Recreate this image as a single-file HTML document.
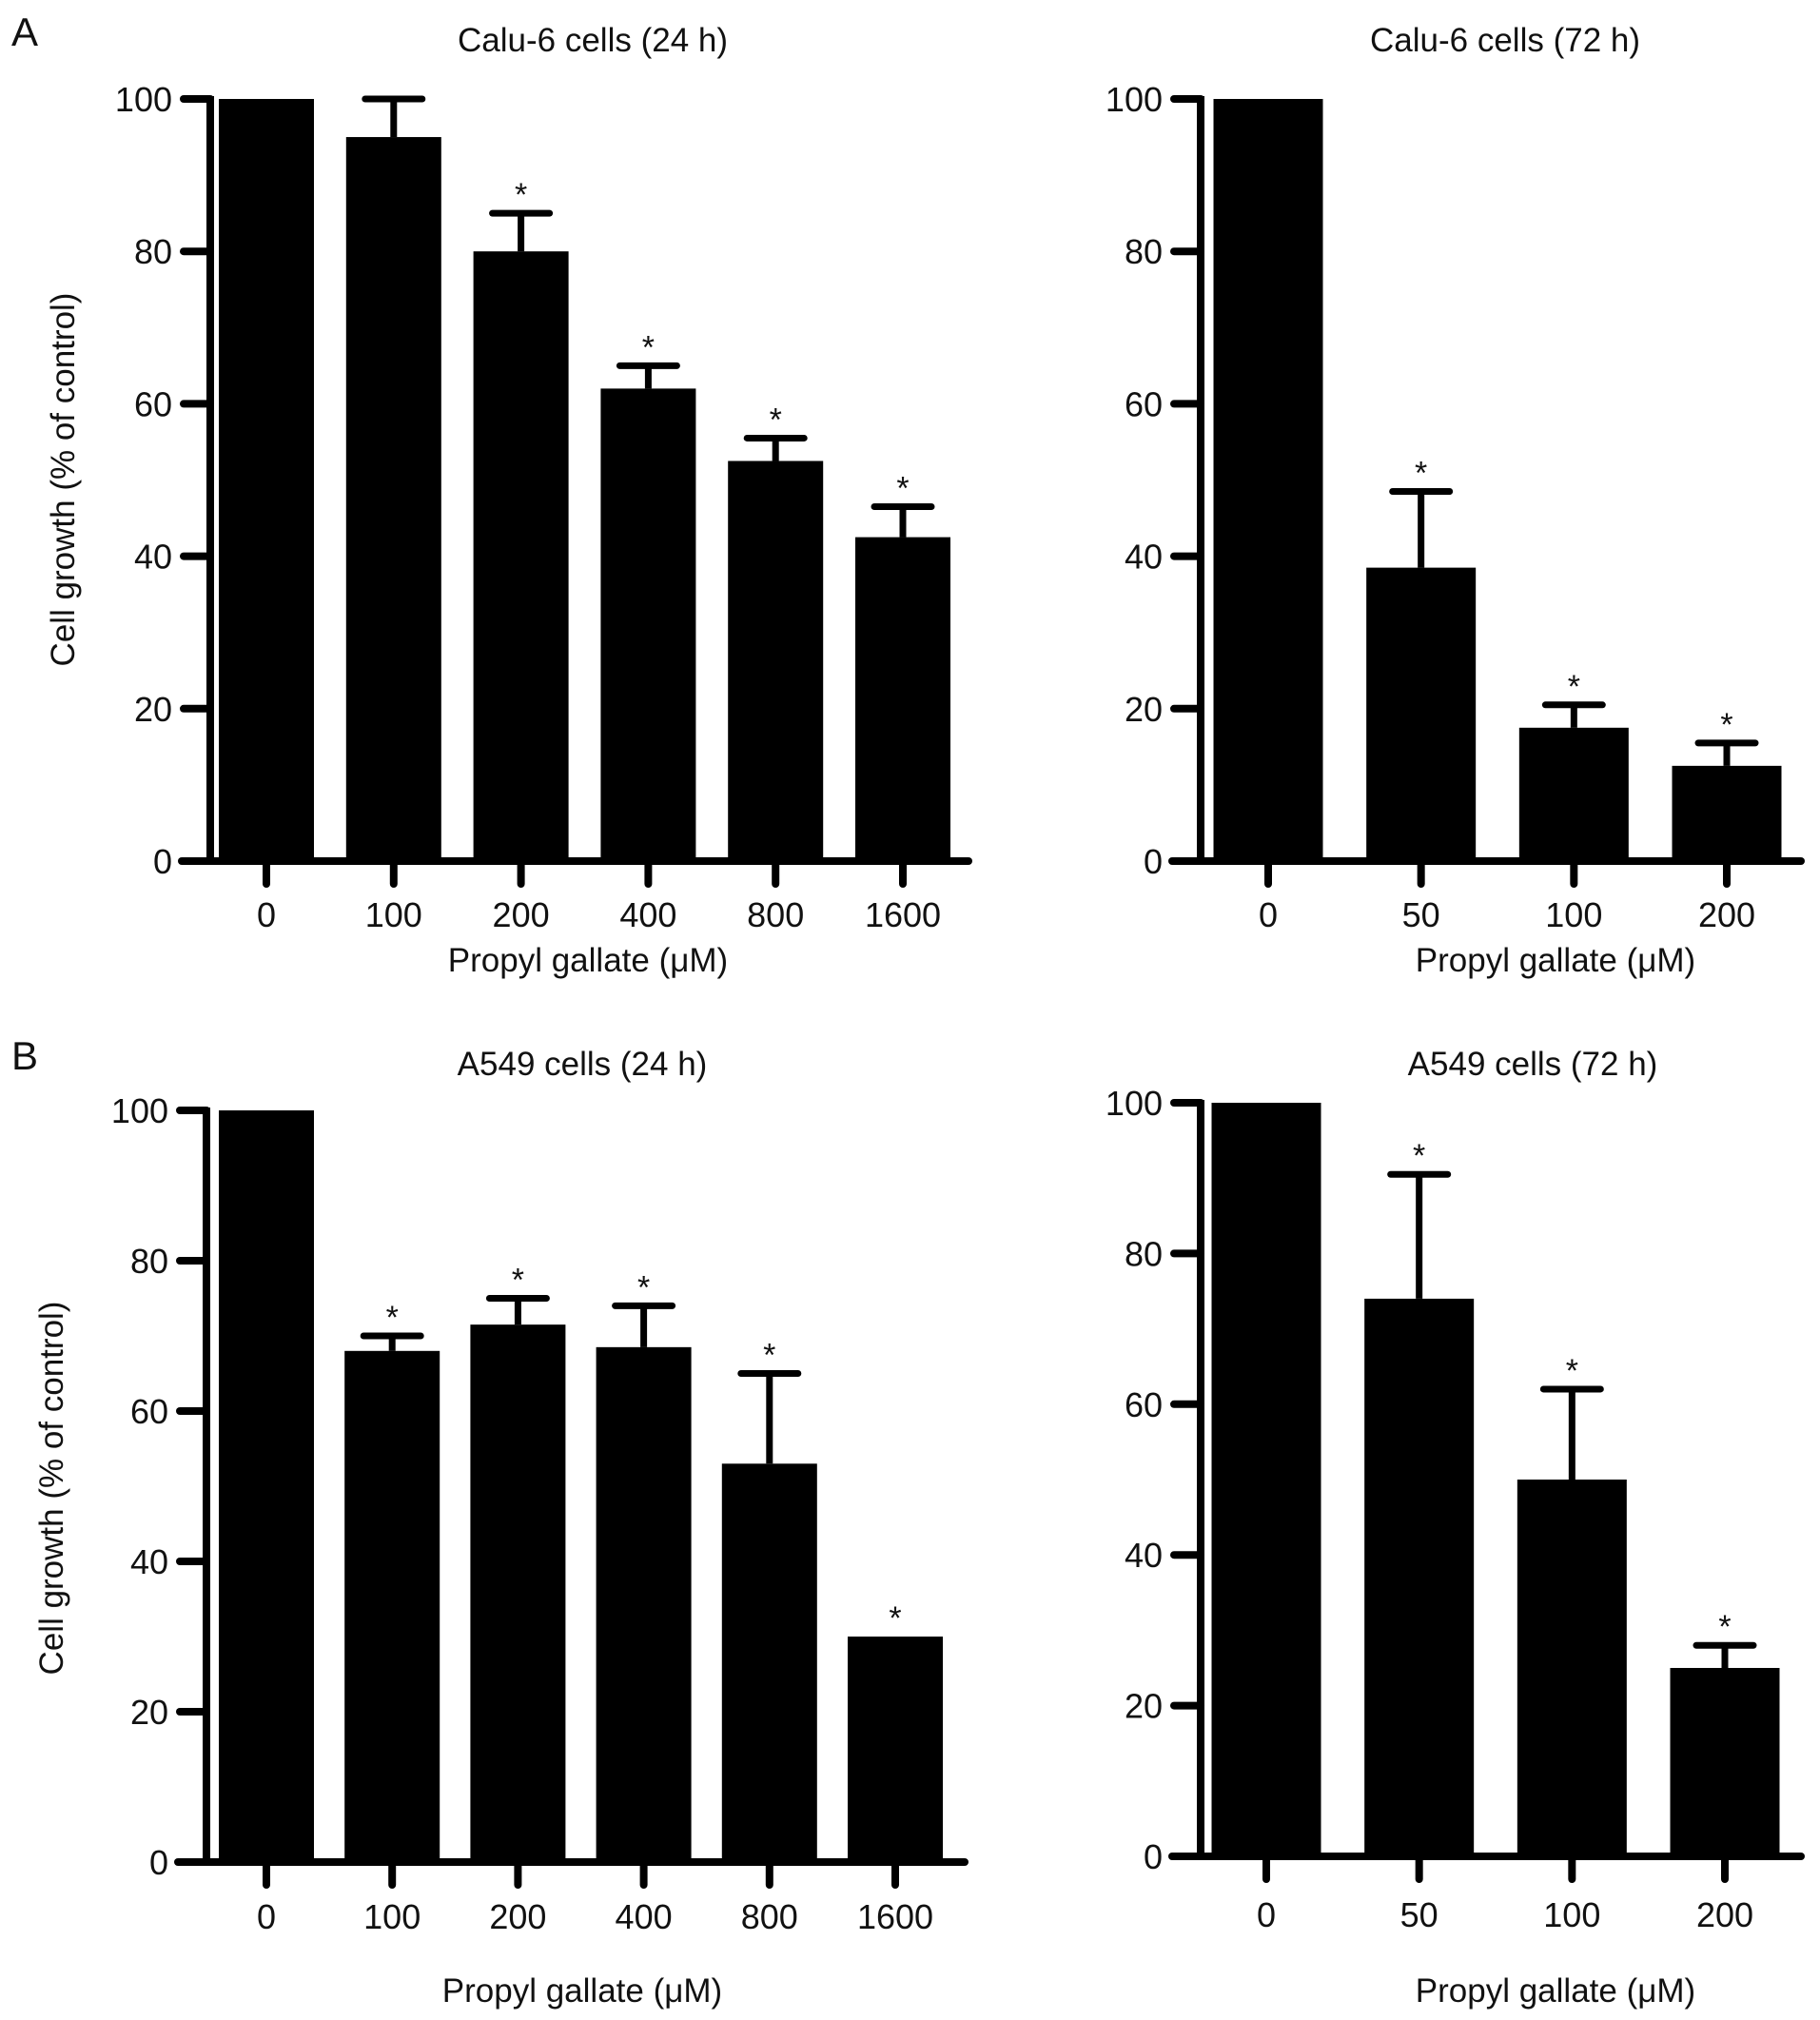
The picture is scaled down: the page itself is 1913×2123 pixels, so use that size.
<!DOCTYPE html>
<html><head><meta charset="utf-8">
<style>
html,body{margin:0;padding:0;background:#fff;}
svg{display:block;}
text{font-family:"Liberation Sans",Arial,sans-serif;fill:#111;}
</style></head>
<body>
<svg id="fig" width="1913" height="2123" viewBox="0 0 1913 2123" xmlns="http://www.w3.org/2000/svg">
<text x="12" y="48" font-size="42">A</text>
<text x="12" y="1124" font-size="42">B</text>
</svg>
<script>
// Panel A left: Calu-6 24 h
const catsA24 = ["0","100","200","400","800","1600"];
const valsA24 = [100, 95, 80, 62, 52.5, 42.5];
const errA24 = [0, 5, 5, 3, 3, 4];
const starA24 = [false, false, true, true, true, true];
// Panel A right: Calu-6 72 h
const catsA72 = ["0","50","100","200"];
const valsA72 = [100, 38.5, 17.5, 12.5];
const errA72 = [0, 10, 3, 3];
const starA72 = [false, true, true, true];
// Panel B left: A549 24 h
const catsB24 = ["0","100","200","400","800","1600"];
const valsB24 = [100, 68, 71.5, 68.5, 53, 30];
const errB24 = [0, 2, 3.5, 5.5, 12, 0];
const starB24 = [false, true, true, true, true, true];
// Panel B right: A549 72 h
const catsB72 = ["0","50","100","200"];
const valsB72 = [100, 74, 50, 25];
const errB72 = [0, 16.5, 12, 3];
const starB72 = [false, true, true, true];
const yTicks = [0, 20, 40, 60, 80, 100];

const svg = document.getElementById('fig');
const NS = 'http://www.w3.org/2000/svg';
function mk(tag, attrs, parent){
  const e = document.createElementNS(NS, tag);
  for (const k in attrs) e.setAttribute(k, attrs[k]);
  (parent||svg).appendChild(e);
  return e;
}

function panel(p){
  const g = mk('g', {});
  
  
  const y = v => p.y0 + (p.y100 - p.y0) * v / 100;
  const step = (p.xLast - p.xFirst) / (p.cats.length - 1);
  const x = i => p.xFirst + step * i;
  const t = mk('text', {x: p.titleX, y: p.titleY, 'font-size': 35, 'text-anchor': 'middle'}, g);
  t.textContent = p.title;
  
  
  p.vals.forEach((v, i) => {
    const r = mk('rect', {x: x(i) - p.bw/2, y: y(v), width: p.bw, height: y(0) - y(v), fill: '#000'}, g);
    
    
    if (p.err[i] > 0) {
      const eb = mk('line', {x1: x(i), x2: x(i), y1: y(v), y2: y(v + p.err[i]), stroke: '#000', 'stroke-width': 7}, g);
      
      
      const cap = mk('line', {x1: x(i) - 30, x2: x(i) + 30, y1: y(v + p.err[i]), y2: y(v + p.err[i]), stroke: '#000', 'stroke-width': 7, 'stroke-linecap': 'round'}, g);
      
      
    }
    if (p.star[i]) {
      const s = mk('text', {x: x(i), y: y(v + p.err[i]) - 8, 'font-size': 34, 'text-anchor': 'middle'}, g);
      s.textContent = '*';
      
      
    }
    const tk = mk('line', {x1: x(i), x2: x(i), y1: y(0), y2: y(0) + 24, stroke: '#000', 'stroke-width': 8, 'stroke-linecap': 'round'}, g);
    
    
    const tl = mk('text', {x: x(i), y: p.xLabY, 'font-size': 36, 'text-anchor': 'middle'}, g);
    tl.textContent = p.cats[i];
    
    
  });
  const ya = mk('line', {x1: p.ax, x2: p.ax, y1: y(100) - 3, y2: y(0), stroke: '#000', 'stroke-width': 8}, g);
  
  
  yTicks.forEach(v => {
    const tk = mk('line', {x1: p.ax - 28, x2: p.ax, y1: y(v), y2: y(v), stroke: '#000', 'stroke-width': 8, 'stroke-linecap': 'round'}, g);
    
    
    const tl = mk('text', {x: p.ax - 40, y: y(v) + 13, 'font-size': 36, 'text-anchor': 'end'}, g);
    tl.textContent = v;
    
    
  });
  const xa = mk('line', {x1: p.ax - 30, x2: p.xEnd, y1: y(0), y2: y(0), stroke: '#000', 'stroke-width': 8, 'stroke-linecap': 'round'}, g);
  
  
  const xt = mk('text', {x: p.xTitleX, y: p.xTitleY, 'font-size': 35, 'text-anchor': 'middle'}, g);
  xt.textContent = 'Propyl gallate (\u03bcM)';
  
  
  if (p.yTitleX) {
    const yt = mk('text', {x: 0, y: 0, 'font-size': 35, 'text-anchor': 'middle', transform: 'translate(' + p.yTitleX + ',' + p.yTitleY + ') rotate(-90)'}, g);
    yt.textContent = 'Cell growth (% of control)';
    
    
  }
}

panel({name:'chart-calu6-24h', title:'Calu-6 cells (24 h)', titleX:623, titleY:54, cats:catsA24, vals:valsA24, err:errA24, star:starA24,
  ax:221, y0:905, y100:104, xFirst:280, xLast:949, bw:100, xEnd:1018, xLabY:974, xTitleX:618, xTitleY:1021, yTitleX:78, yTitleY:504});
panel({name:'chart-calu6-72h', title:'Calu-6 cells (72 h)', titleX:1582, titleY:54, cats:catsA72, vals:valsA72, err:errA72, star:starA72,
  ax:1262, y0:905, y100:104, xFirst:1333, xLast:1815, bw:115, xEnd:1893, xLabY:974, xTitleX:1635, xTitleY:1021});
panel({name:'chart-a549-24h', title:'A549 cells (24 h)', titleX:612, titleY:1130, cats:catsB24, vals:valsB24, err:errB24, star:starB24,
  ax:217, y0:1957, y100:1167, xFirst:280, xLast:941, bw:100, xEnd:1014, xLabY:2027, xTitleX:612, xTitleY:2104, yTitleX:66, yTitleY:1564});
panel({name:'chart-a549-72h', title:'A549 cells (72 h)', titleX:1611, titleY:1130, cats:catsB72, vals:valsB72, err:errB72, star:starB72,
  ax:1262, y0:1951, y100:1159, xFirst:1331, xLast:1813, bw:115, xEnd:1893, xLabY:2025, xTitleX:1635, xTitleY:2104});
</script>
</body></html>
